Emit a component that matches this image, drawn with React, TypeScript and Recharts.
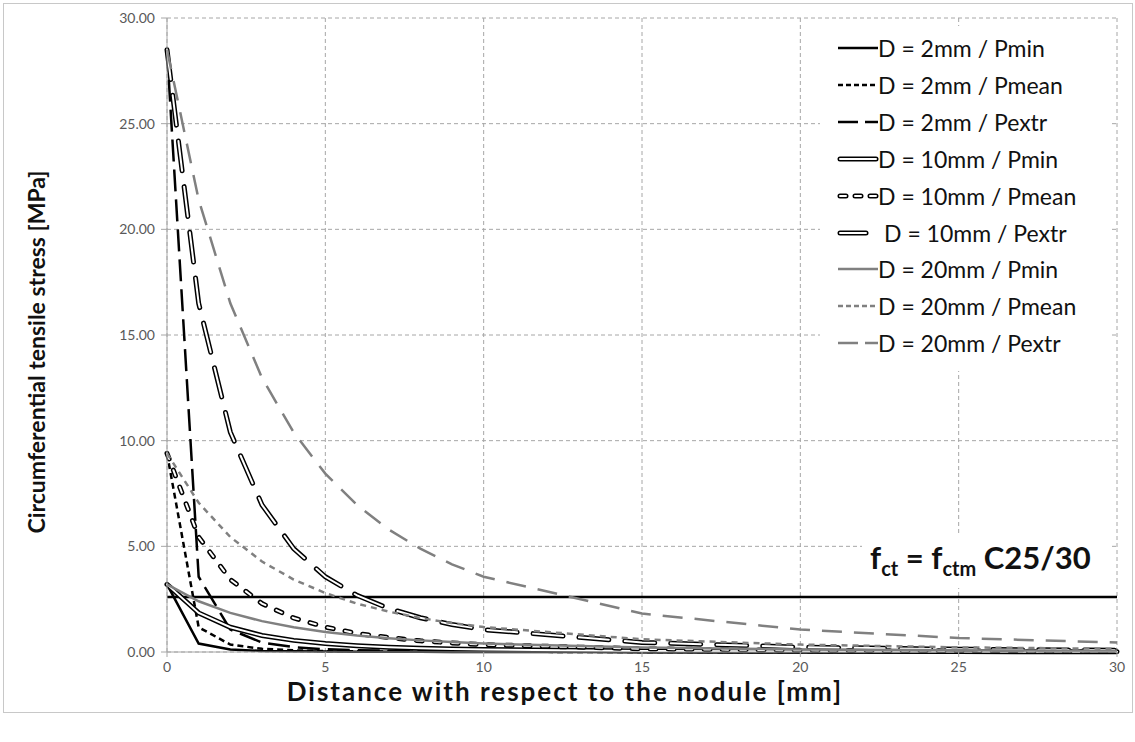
import React from 'react';
import { LineChart, Line, XAxis, YAxis, CartesianGrid, ReferenceLine } from 'recharts';

const xs = [0, 1, 2, 3, 4, 5, 6, 7, 8, 9, 10, 15, 20, 25, 30];

const d2min = [3.2, 0.4, 0.12, 0.05, 0.03, 0.02, 0.01, 0.01, 0.01, 0.0, 0.0, 0.0, 0.0, 0.0, 0.0];
const d2mean = [9.4, 1.17, 0.35, 0.15, 0.08, 0.04, 0.03, 0.02, 0.01, 0.01, 0.01, 0.0, 0.0, 0.0, 0.0];
const d2extr = [28.5, 3.56, 1.06, 0.45, 0.23, 0.13, 0.08, 0.06, 0.04, 0.03, 0.02, 0.01, 0.0, 0.0, 0.0];
const d10min = [3.2, 1.85, 1.17, 0.78, 0.55, 0.4, 0.3, 0.23, 0.18, 0.14, 0.12, 0.05, 0.03, 0.02, 0.01];
const d10mean = [9.4, 5.44, 3.43, 2.29, 1.61, 1.18, 0.88, 0.68, 0.53, 0.43, 0.35, 0.15, 0.08, 0.05, 0.03];
const d10extr = [28.5, 16.5, 10.4, 6.96, 4.89, 3.56, 2.68, 2.06, 1.62, 1.3, 1.06, 0.45, 0.23, 0.13, 0.08];
const d20min = [3.2, 2.4, 1.85, 1.46, 1.17, 0.95, 0.78, 0.65, 0.55, 0.47, 0.4, 0.21, 0.12, 0.08, 0.05];
const d20mean = [9.4, 7.06, 5.44, 4.28, 3.43, 2.79, 2.29, 1.91, 1.61, 1.37, 1.18, 0.6, 0.35, 0.22, 0.15];
const d20extr = [28.5, 21.4, 16.5, 12.97, 10.39, 8.44, 6.96, 5.8, 4.89, 4.15, 3.56, 1.82, 1.06, 0.66, 0.45];

const fctm = 2.6;

const xTicks = [0, 5, 10, 15, 20, 25, 30];
const yTicks = [0, 5, 10, 15, 20, 25, 30];

const legendLabels = [
  'D = 2mm / Pmin',
  'D = 2mm / Pmean',
  'D = 2mm / Pextr',
  'D = 10mm / Pmin',
  'D = 10mm / Pmean',
  'D = 10mm / Pextr',
  'D = 20mm / Pmin',
  'D = 20mm / Pmean',
  'D = 20mm / Pextr',
];

const data = xs.map((x, i) => ({
  x,
  d2min: d2min[i],
  d2mean: d2mean[i],
  d2extr: d2extr[i],
  d10min: d10min[i],
  d10mean: d10mean[i],
  d10extr: d10extr[i],
  d20min: d20min[i],
  d20mean: d20mean[i],
  d20extr: d20extr[i],
}));

const GRAY = '#808080';
const FONT = 'Lato, "Open Sans", sans-serif';

type Sty = { color: string; dash?: string; double?: boolean };
const styles: Sty[] = [
  { color: '#000' },
  { color: '#000', dash: '6 4' },
  { color: '#000', dash: '22 8' },
  { color: '#000', double: true },
  { color: '#000', dash: '6 12', double: true },
  { color: '#000', dash: '30 16', double: true },
  { color: GRAY },
  { color: GRAY, dash: '6 5' },
  { color: GRAY, dash: '20 12' },
];

const LegendGlyph = ({ s, idx }: { s: Sty; idx: number }) => {
  const x1 = 4;
  const x2 = idx === 5 ? 34 : 44;
  let dash = s.dash;
  if (idx === 1) dash = '5 3';
  if (idx === 2) dash = '20 7';
  if (idx === 4) dash = '6 9';
  if (idx === 5) dash = undefined;
  if (idx === 7) dash = '5 3';
  if (idx === 8) dash = '20 7';
  return (
    <svg width={48} height={12} style={{ display: 'block' }}>
      {s.double ? (
        <>
          <line x1={x1 + 2} y1={6} x2={x2 - 2} y2={6} stroke="#000" strokeWidth={5} strokeLinecap="round" strokeDasharray={dash} />
          <line x1={x1 + 2} y1={6} x2={x2 - 2} y2={6} stroke="#fff" strokeWidth={2} strokeLinecap="round" strokeDasharray={dash} />
        </>
      ) : (
        <line x1={x1} y1={6} x2={x2} y2={6} stroke={s.color} strokeWidth={2.5} strokeDasharray={dash} />
      )}
    </svg>
  );
};

const keys = ['d2min', 'd2mean', 'd2extr', 'd10min', 'd10mean', 'd10extr', 'd20min', 'd20mean', 'd20extr'];

export default function App() {
  const lines: React.ReactNode[] = [];
  keys.forEach((k, i) => {
    const s = styles[i];
    if (s.double) {
      lines.push(
        <Line key={k + 'o'} type="linear" dataKey={k} stroke="#000" strokeWidth={5} strokeLinecap="round"
          strokeDasharray={s.dash} dot={false} activeDot={false} isAnimationActive={false} />
      );
      lines.push(
        <Line key={k + 'i'} type="linear" dataKey={k} stroke="#fff" strokeWidth={2} strokeLinecap="round"
          strokeDasharray={s.dash} dot={false} activeDot={false} isAnimationActive={false} />
      );
    } else {
      lines.push(
        <Line key={k} type="linear" dataKey={k} stroke={s.color} strokeWidth={2.5}
          strokeDasharray={s.dash} dot={false} activeDot={false} isAnimationActive={false} />
      );
    }
  });

  return (
    <div style={{ position: 'absolute', left: 0, top: 0, width: 1135, height: 742, background: '#fff', fontFamily: FONT }}>
      <div style={{ position: 'absolute', left: 3, top: 3, width: 1128, height: 708, border: '1px solid #c8c8c8' }} />
      <div style={{ position: 'absolute', left: 0, top: 0 }}>
        <LineChart width={1135} height={742} data={data} margin={{ top: 18, right: 18, bottom: 60, left: 107 }}>
          <CartesianGrid stroke="#a6a6a6" strokeDasharray="4 3" />
          <XAxis dataKey="x" type="number" domain={[0, 30]} ticks={xTicks} height={30}
            tick={{ fill: '#595959', fontSize: 14, fontFamily: FONT }} tickSize={5} tickMargin={5}
            axisLine={{ stroke: '#a6a6a6' }} tickLine={{ stroke: '#a6a6a6' }} />
          <YAxis type="number" domain={[0, 30]} ticks={yTicks} width={60}
            tickFormatter={(v: number) => v.toFixed(2)}
            tick={{ fill: '#595959', fontSize: 14, fontFamily: FONT }} tickSize={6} tickMargin={6}
            axisLine={{ stroke: '#a6a6a6' }} tickLine={{ stroke: '#a6a6a6' }} />
          <ReferenceLine y={fctm} stroke="#000" strokeWidth={2.5} />
          {lines}
        </LineChart>
      </div>

      {/* legend */}
      <div style={{ position: 'absolute', left: 820, top: 26, width: 292, height: 345, background: '#fff' }}>
        {legendLabels.map((lab, i) => (
          <div key={lab} style={{ position: 'absolute', left: 14, top: 22 + i * 36.9 - 14, height: 28, display: 'flex', alignItems: 'center' }}>
            <LegendGlyph s={styles[i]} idx={i} />
            <span style={{ fontSize: 23, color: '#111', marginLeft: i === 5 ? 2 : -4, whiteSpace: 'nowrap' }}>{lab}</span>
          </div>
        ))}
      </div>

      {/* annotation */}
      <div style={{ position: 'absolute', left: 862, top: 533, width: 250, height: 55, background: '#fff' }}>
        <div style={{ position: 'absolute', left: 8, top: 5, fontSize: 31, fontWeight: 700, color: '#111', whiteSpace: 'nowrap' }}>
          f<sub style={{ fontSize: 20 }}>ct</sub> = f<sub style={{ fontSize: 20 }}>ctm</sub> C25/30
        </div>
      </div>

      {/* axis titles */}
      <div style={{ position: 'absolute', left: 565, top: 675, transform: 'translateX(-50%)', whiteSpace: 'nowrap', fontSize: 26, fontWeight: 700, letterSpacing: 2, color: '#111' }}>
        Distance with respect to the nodule [mm]
      </div>
      <div style={{ position: 'absolute', left: 36, top: 352, transform: 'translate(-50%, -50%) rotate(-90deg)', whiteSpace: 'nowrap', fontSize: 23, fontWeight: 700, color: '#111' }}>
        Circumferential tensile stress [MPa]
      </div>
    </div>
  );
}
